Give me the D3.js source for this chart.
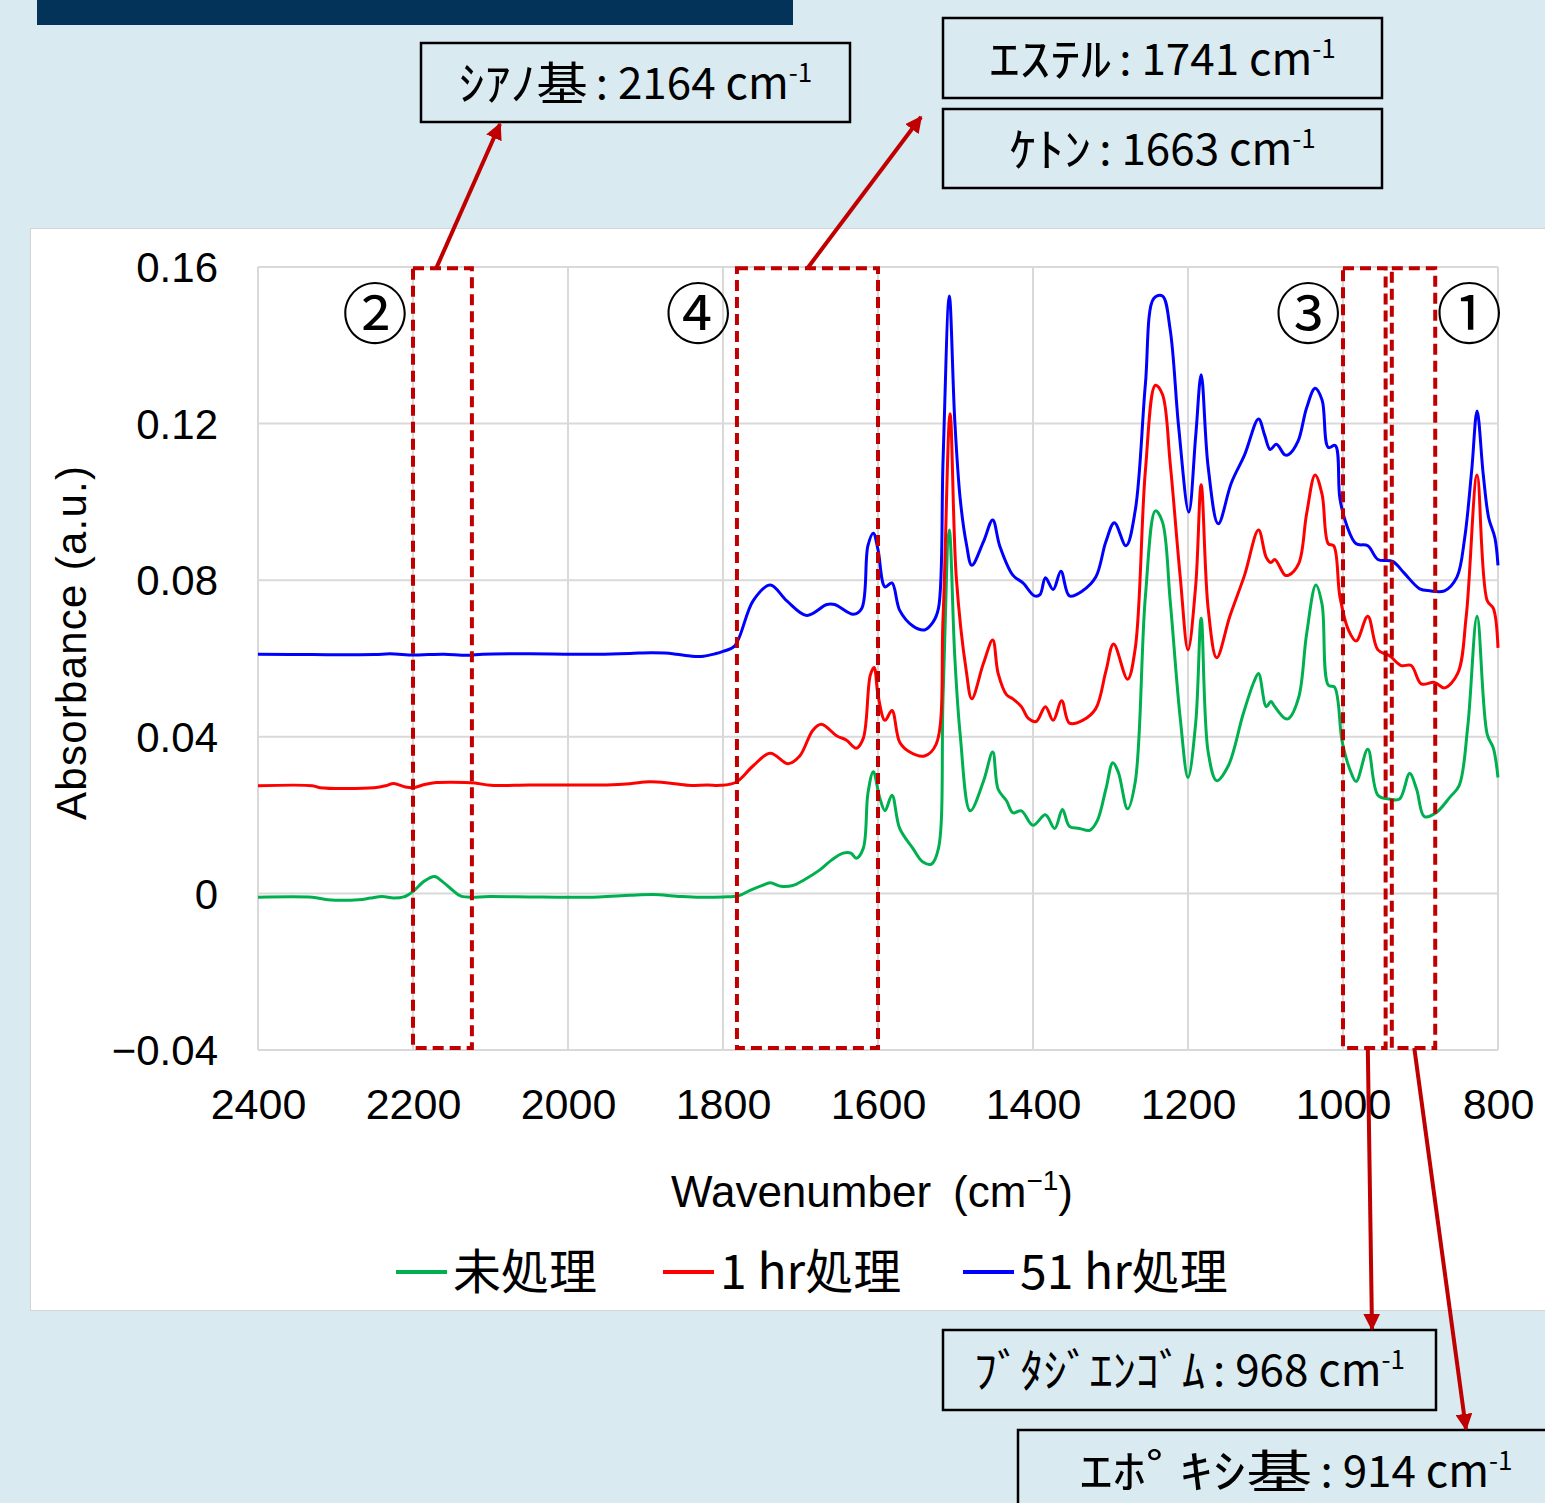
<!DOCTYPE html>
<html>
<head>
<meta charset="utf-8">
<script src="https://cdn.jsdelivr.net/npm/d3@7"></script>
<style>
  html, body { margin: 0; padding: 0; background: #d9eaf1; }
  svg { display: block; }
  .latin { font-family: "Liberation Sans", Arial, sans-serif; }
  .jp { font-family: "Noto Sans CJK JP", sans-serif; }
</style>
</head>
<body>
<svg id="chart" width="1545" height="1503"></svg>
<script>
// FT-IR spectra: [wavenumber (cm-1), absorbance]
const untreated = [
  [2400,-0.001],[2330,-0.001],[2310,-0.0016],[2270,-0.0016],[2255,-0.0012],[2240,-0.0008],
  [2225,-0.0012],[2212,-0.0009],[2200,0.0005],[2185,0.0032],[2172,0.0043],[2162,0.003],
  [2150,0.001],[2138,-0.0007],[2100,-0.0008],[2050,-0.0009],[2000,-0.001],[1960,-0.0009],
  [1920,-0.0005],[1890,-0.0003],[1860,-0.0007],[1830,-0.001],[1800,-0.0009],[1780,-0.0006],
  [1765,0.0008],[1750,0.002],[1739,0.0027],[1725,0.0018],[1710,0.002],[1695,0.0035],
  [1675,0.006],[1660,0.0085],[1645,0.0103],[1635,0.0103],[1628,0.009],[1619,0.0115],
  [1613,0.0256],[1606,0.0311],[1598,0.0246],[1591,0.0211],[1582,0.0251],[1572,0.0166],
  [1555,0.0115],[1542,0.008],[1531,0.0075],[1522,0.0115],[1516,0.0507],[1508,0.0928],
  [1501,0.0607],[1494,0.0407],[1481,0.0211],[1464,0.0286],[1452,0.0361],[1445,0.0266],
  [1434,0.0236],[1426,0.0206],[1415,0.0211],[1400,0.0174],[1384,0.0201],[1372,0.0166],
  [1362,0.0214],[1353,0.0171],[1340,0.0166],[1327,0.0161],[1317,0.0186],[1306,0.0266],
  [1297,0.0334],[1290,0.031],[1278,0.0216],[1268,0.0286],[1255,0.0758],[1242,0.0977],
  [1233,0.0949],[1223,0.0748],[1210,0.0447],[1200,0.0296],[1190,0.0437],[1183,0.0703],
  [1174,0.0361],[1163,0.0288],[1148,0.0326],[1129,0.0457],[1115,0.054],[1109,0.0562],
  [1099,0.0477],[1093,0.049],[1088,0.0477],[1075,0.0447],[1070,0.0447],[1057,0.0502],
  [1047,0.0662],[1035,0.0788],[1027,0.0738],[1019,0.0532],[1011,0.0527],[1001,0.0387],
  [991,0.0316],[983,0.0286],[968,0.0368],[955,0.0251],[940,0.0241],[927,0.0241],
  [914,0.0306],[905,0.0266],[895,0.0196],[880,0.0206],[862,0.0246],[850,0.0276],
  [839,0.0427],[827,0.0708],[814,0.0407],[806,0.0371],[800,0.0296]
];

const treated1h = [
  [2400,0.0275],[2330,0.0275],[2320,0.027],[2250,0.027],[2235,0.0275],[2225,0.0281],
  [2210,0.0272],[2200,0.027],[2185,0.0278],[2170,0.0283],[2150,0.0284],[2120,0.0282],
  [2100,0.0276],[2050,0.0277],[2000,0.0277],[1950,0.0277],[1920,0.028],[1895,0.0285],
  [1870,0.0282],[1845,0.0276],[1820,0.0277],[1804,0.0276],[1783,0.0284],[1761,0.0326],
  [1739,0.0358],[1716,0.0331],[1701,0.0351],[1684,0.0417],[1673,0.0432],[1653,0.0402],
  [1641,0.0392],[1628,0.0371],[1619,0.0396],[1610,0.0557],[1605,0.0577],[1600,0.0507],
  [1591,0.0442],[1582,0.0467],[1572,0.0386],[1559,0.0361],[1540,0.0351],[1525,0.0381],
  [1516,0.0708],[1507,0.1225],[1499,0.0808],[1486,0.0567],[1479,0.0497],[1464,0.0587],
  [1452,0.0647],[1445,0.0562],[1434,0.0507],[1426,0.0497],[1415,0.0477],[1406,0.0447],
  [1396,0.0439],[1384,0.0477],[1374,0.0442],[1363,0.0492],[1353,0.0435],[1336,0.0442],
  [1319,0.0472],[1306,0.0567],[1296,0.0637],[1278,0.0547],[1268,0.0627],[1255,0.1079],
  [1242,0.1298],[1233,0.1275],[1223,0.1099],[1210,0.0808],[1200,0.0622],[1190,0.0788],
  [1183,0.1044],[1174,0.0728],[1163,0.0602],[1146,0.0708],[1127,0.0813],[1109,0.0928],
  [1099,0.0858],[1093,0.0845],[1088,0.0853],[1075,0.0813],[1070,0.0813],[1057,0.0843],
  [1047,0.0969],[1036,0.1069],[1027,0.1019],[1019,0.0893],[1012,0.0888],[1004,0.0758],
  [993,0.0673],[983,0.0645],[968,0.0708],[955,0.0622],[940,0.0607],[925,0.0582],
  [912,0.0582],[899,0.0535],[882,0.0539],[869,0.0525],[852,0.0562],[841,0.0708],
  [827,0.1069],[814,0.0748],[806,0.0728],[800,0.0627]
];

const treated51h = [
  [2400,0.0611],[2330,0.061],[2250,0.061],[2230,0.0612],[2200,0.0609],[2180,0.061],
  [2160,0.0611],[2130,0.0608],[2110,0.0611],[2050,0.0612],[2000,0.0611],[1960,0.0611],
  [1920,0.0613],[1893,0.0615],[1875,0.0614],[1860,0.0611],[1840,0.0606],[1825,0.0606],
  [1810,0.0612],[1800,0.0618],[1785,0.0632],[1761,0.0748],[1739,0.0788],[1718,0.0748],
  [1692,0.071],[1666,0.0738],[1656,0.0738],[1632,0.0713],[1621,0.0728],[1613,0.0888],
  [1606,0.092],[1600,0.0878],[1591,0.0783],[1582,0.0793],[1572,0.0723],[1555,0.0683],
  [1540,0.0673],[1529,0.0693],[1522,0.0728],[1516,0.111],[1508,0.1526],[1501,0.121],
  [1494,0.1009],[1486,0.0893],[1479,0.0838],[1464,0.0898],[1452,0.0954],[1443,0.0888],
  [1426,0.0813],[1413,0.0793],[1398,0.076],[1391,0.0763],[1384,0.0806],[1374,0.0776],
  [1364,0.0823],[1353,0.076],[1336,0.0773],[1319,0.0808],[1306,0.0898],[1295,0.0947],
  [1280,0.0888],[1268,0.0979],[1255,0.13],[1244,0.152],[1233,0.1526],[1223,0.144],
  [1212,0.119],[1199,0.0974],[1190,0.117],[1183,0.1325],[1174,0.1089],[1161,0.0944],
  [1144,0.1049],[1127,0.112],[1109,0.1212],[1101,0.117],[1094,0.1134],[1086,0.1147],
  [1075,0.112],[1070,0.1121],[1058,0.1155],[1047,0.124],[1036,0.129],[1027,0.126],
  [1019,0.1139],[1010,0.1144],[1004,0.1009],[995,0.0939],[983,0.0893],[968,0.0888],
  [955,0.0853],[936,0.0848],[921,0.0818],[901,0.0778],[888,0.0773],[869,0.0773],
  [853,0.0808],[843,0.0908],[834,0.1079],[827,0.1232],[819,0.1069],[812,0.0959],
  [804,0.0908],[800,0.0838]
];

const seriesNames = ["未処理", "1 hr処理", "51 hr処理"];
const seriesColors = ["#00b050", "#ff0000", "#0000ff"];
const seriesData = [untreated, treated1h, treated51h];

const xTicks = [2400, 2200, 2000, 1800, 1600, 1400, 1200, 1000, 800];
const yTicks = [-0.04, 0, 0.04, 0.08, 0.12, 0.16];

// Highlighted bands (wavenumber ranges) with their circled numbers
const bandLabels = ["②", "④", "③", "①"];
const bandRanges = [[2200, 2124], [1782, 1600], [1000, 945], [937, 881]];
const bandMarkerWn = [2249, 1832, 1045, 837];

// Peak assignment callouts
const calloutNames = ["ｼｱﾉ基", "ｴｽﾃﾙ", "ｹﾄﾝ", "ﾌﾞﾀｼﾞｴﾝｺﾞﾑ", "ｴﾎﾟｷｼ基"];
const calloutWavenumbers = [2164, 1741, 1663, 968, 914];

const svg = d3.select("#chart");

// header bar
svg.append("rect").attr("x", 37).attr("y", 0).attr("width", 756).attr("height", 25)
  .attr("fill", "#04335a");

// chart panel
svg.append("rect").attr("x", 30.5).attr("y", 228.5).attr("width", 1520).attr("height", 1082)
  .attr("fill", "#ffffff").attr("stroke", "#d4d4d4").attr("stroke-width", 1);

const x = d3.scaleLinear().domain([2400, 800]).range([258, 1498]);
const y = d3.scaleLinear().domain([-0.04, 0.16]).range([1050, 267]);

// gridlines
const grid = svg.append("g");
grid.selectAll("line.v").data(xTicks).join("line")
  .attr("x1", d => x(d)).attr("x2", d => x(d))
  .attr("y1", y(0.16)).attr("y2", y(-0.04))
  .attr("stroke", "#d9d9d9").attr("stroke-width", 2);
grid.selectAll("line.h").data(yTicks).join("line")
  .attr("x1", x(2400)).attr("x2", x(800))
  .attr("y1", d => y(d)).attr("y2", d => y(d))
  .attr("stroke", "#d9d9d9").attr("stroke-width", 2);

// axes (labels only)
const fmtY = d => d === 0 ? "0" : d3.format(".2f")(d);
const xAxis = svg.append("g").attr("transform", `translate(0,${y(-0.04)})`)
  .call(d3.axisBottom(x).tickValues(xTicks).tickFormat(d3.format("d")).tickSize(0).tickPadding(38));
const yAxis = svg.append("g").attr("transform", `translate(${x(2400)},0)`)
  .call(d3.axisLeft(y).tickValues(yTicks).tickFormat(fmtY).tickSize(0).tickPadding(40));
[xAxis, yAxis].forEach(a => {
  a.select(".domain").remove();
  a.selectAll("text").attr("fill", "#000")
    .attr("font-family", "'Liberation Sans', Arial, sans-serif");
});
xAxis.selectAll("text").attr("font-size", 43);
yAxis.selectAll("text").attr("font-size", 42).attr("dy", "0.35em");

// axis titles
svg.append("text").attr("class", "latin")
  .attr("transform", `translate(86,643) rotate(-90)`)
  .attr("text-anchor", "middle").attr("font-size", 42).attr("fill", "#000")
  .attr("textLength", 354).attr("lengthAdjust", "spacing")
  .text("Absorbance (a.u.)");

const xt = svg.append("text").attr("class", "latin")
  .attr("x", 872).attr("y", 1207).attr("text-anchor", "middle")
  .attr("font-size", 44).attr("fill", "#000");
xt.append("tspan").text("Wavenumber\u2002(cm");
xt.append("tspan").attr("dy", -17).attr("font-size", 28).text("−1");
xt.append("tspan").attr("dy", 17).text(")");

// spectra
const line = d3.line().x(d => x(d[0])).y(d => y(d[1])).curve(d3.curveCatmullRom.alpha(0.5));
svg.append("g").selectAll("path").data(seriesData).join("path")
  .attr("d", line)
  .attr("fill", "none")
  .attr("stroke", (d, i) => seriesColors[i])
  .attr("stroke-width", 3)
  .attr("stroke-linejoin", "round");

// highlighted bands
const boxColor = "#c00000";
svg.append("g").selectAll("rect").data(bandRanges).join("rect")
  .attr("x", d => x(d[0])).attr("width", d => x(d[1]) - x(d[0]))
  .attr("y", y(0.1597)).attr("height", y(-0.0395) - y(0.1597))
  .attr("fill", "none").attr("stroke", boxColor).attr("stroke-width", 4)
  .attr("stroke-dasharray", "11,6");

svg.append("g").selectAll("text").data(bandLabels).join("text")
  .attr("x", (d, i) => x(bandMarkerWn[i])).attr("y", y(0.148))
  .attr("dy", "0.36em").attr("text-anchor", "middle")
  .attr("font-family", "'Noto Sans CJK JP', sans-serif").attr("font-size", 66)
  .attr("fill", "#000").text(d => d);

// legend
const legend = svg.append("g");
const legendX = [396, 663, 963];
seriesNames.forEach((name, i) => {
  legend.append("line").attr("x1", legendX[i]).attr("x2", legendX[i] + 51)
    .attr("y1", 1272).attr("y2", 1272)
    .attr("stroke", seriesColors[i]).attr("stroke-width", 4);
  legend.append("text").attr("x", legendX[i] + 57).attr("y", 1272).attr("dy", "0.36em")
    .attr("font-family", "'Noto Sans CJK JP', sans-serif").attr("font-size", 48)
    .attr("fill", "#000").text(name);
});

// callout boxes
const calloutBoxes = [
  { x: 421, y: 43, w: 429, h: 79 },
  { x: 943, y: 18, w: 439, h: 80 },
  { x: 943, y: 109, w: 439, h: 79 },
  { x: 943, y: 1330, w: 493, h: 80 },
  { x: 1018, y: 1430, w: 556, h: 90 }
];
const calloutTextY = [83, 59, 149, 1370, 1471];
const calloutNameWidth = [129, 122, 82, 231, 233];
const jpFont = "'Noto Sans CJK JP', sans-serif";
calloutNames.forEach((name, i) => {
  const b = calloutBoxes[i];
  svg.append("rect").attr("x", b.x).attr("y", b.y).attr("width", b.w).attr("height", b.h)
    .attr("fill", "none").attr("stroke", "#000").attr("stroke-width", 2.5);
  const g = svg.append("g");
  const nameText = g.append("text").attr("y", calloutTextY[i]).attr("dy", "0.36em")
    .attr("font-family", jpFont).attr("font-size", 46).attr("fill", "#000")
    .attr("textLength", calloutNameWidth[i]).attr("lengthAdjust", "spacingAndGlyphs")
    .text(name);
  const rest = g.append("text").attr("y", calloutTextY[i]).attr("dy", "0.36em")
    .attr("font-family", jpFont).attr("font-size", 44).attr("fill", "#000");
  rest.append("tspan").text(`: ${calloutWavenumbers[i]} cm`);
  rest.append("tspan").attr("dy", -17).attr("font-size", 26).text("-1");
  const gap = 8;
  const restW = rest.node().getComputedTextLength();
  const total = calloutNameWidth[i] + gap + restW;
  const x0 = b.x + b.w / 2 - total / 2;
  nameText.attr("x", x0);
  rest.attr("x", x0 + calloutNameWidth[i] + gap);
});

// arrows from bands to callouts
const defs = svg.append("defs");
defs.append("marker").attr("id", "head").attr("viewBox", "0 0 10 10")
  .attr("refX", 9).attr("refY", 5).attr("markerWidth", 4.2).attr("markerHeight", 4.2)
  .attr("markerUnits", "strokeWidth").attr("orient", "auto")
  .append("path").attr("d", "M0,0 L10,5 L0,10 z").attr("fill", boxColor);

const arrows = [
  [x(2170), y(0.1597), 500, 124],
  [x(1691), y(0.1597), 921, 117],
  [x(968), y(-0.0395), 1372, 1329],
  [x(908), y(-0.0395), 1466, 1429]
];
svg.append("g").selectAll("line").data(arrows).join("line")
  .attr("x1", d => d[0]).attr("y1", d => d[1]).attr("x2", d => d[2]).attr("y2", d => d[3])
  .attr("stroke", boxColor).attr("stroke-width", 4).attr("marker-end", "url(#head)");
</script>
</body>
</html>
